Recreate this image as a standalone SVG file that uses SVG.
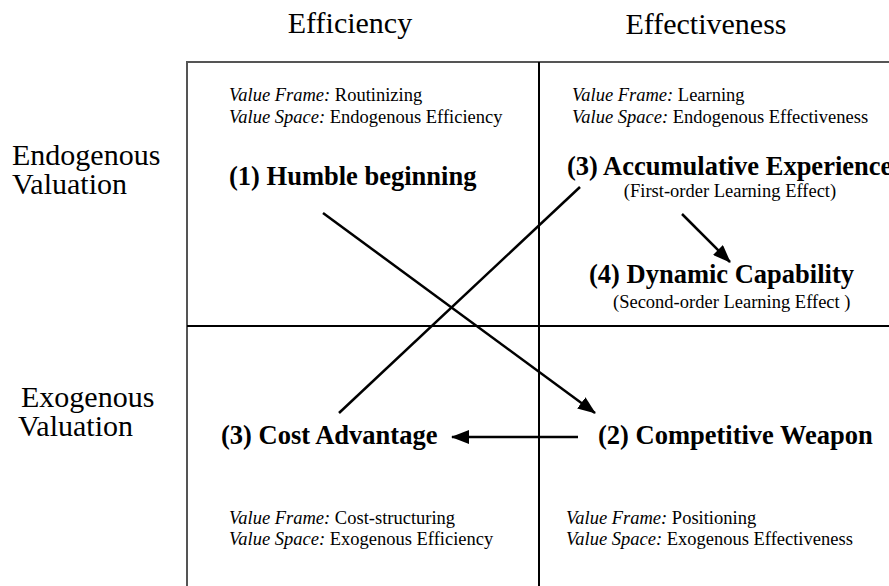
<svg xmlns="http://www.w3.org/2000/svg" width="889" height="586" viewBox="0 0 889 586">
<style>
text{font-family:'Liberation Serif','Times New Roman',serif;fill:#000}
.hdr{font-size:30px}
.note{font-size:18.5px}
.note .i{font-style:italic}
.lbl{font-size:26.5px;font-weight:bold}
.grid{stroke:#000;stroke-width:2;fill:none}
.border{stroke:#555;stroke-width:2;fill:none}
.conn{stroke:#000;stroke-width:2.5;fill:none}
</style>
<defs>
<marker id="ah" viewBox="0 0 18 14" refX="17" refY="7" markerWidth="18" markerHeight="14" markerUnits="userSpaceOnUse" orient="auto">
<path d="M0,0 L18,7 L0,14 Z" fill="#000"/>
</marker>
</defs>
<rect width="889" height="586" fill="#fff"/>
<g id="grid">
<path class="border" d="M187,600 L187,62 L900,62"/>
<line class="grid" x1="539" y1="62" x2="539" y2="600"/>
<line class="grid" x1="187" y1="326" x2="900" y2="326"/>
</g>
<g id="axis-labels">
<text class="hdr" x="350" y="33" text-anchor="middle">Efficiency</text>
<text class="hdr" x="706" y="34" text-anchor="middle">Effectiveness</text>
<text class="hdr" x="12" y="165">Endogenous</text>
<text class="hdr" x="12" y="194">Valuation</text>
<text class="hdr" x="21" y="407">Exogenous</text>
<text class="hdr" x="18" y="436">Valuation</text>
</g>
<g id="q-endo-eff">
<text class="note" x="229" y="101"><tspan class="i">Value Frame:</tspan> Routinizing</text>
<text class="note" x="229" y="123"><tspan class="i">Value Space:</tspan> Endogenous Efficiency</text>
</g>
<g id="q-endo-effect">
<text class="note" x="572" y="101"><tspan class="i">Value Frame:</tspan> Learning</text>
<text class="note" x="572" y="123"><tspan class="i">Value Space:</tspan> Endogenous Effectiveness</text>
</g>
<g id="q-exo-eff">
<text class="note" x="229" y="524"><tspan class="i">Value Frame:</tspan> Cost-structuring</text>
<text class="note" x="229" y="545"><tspan class="i">Value Space:</tspan> Exogenous Efficiency</text>
</g>
<g id="q-exo-effect">
<text class="note" x="566" y="524"><tspan class="i">Value Frame:</tspan> Positioning</text>
<text class="note" x="566" y="545"><tspan class="i">Value Space:</tspan> Exogenous Effectiveness</text>
</g>
<g id="n1">
<text class="lbl" x="229" y="185">(1) Humble beginning</text>
</g>
<g id="n3a">
<text class="lbl" x="567" y="175">(3) Accumulative Experience</text>
<text class="note" x="730" y="197" text-anchor="middle">(First-order Learning Effect)</text>
</g>
<g id="n4">
<text class="lbl" x="589" y="283">(4) Dynamic Capability</text>
<text class="note" x="613" y="308">(Second-order Learning Effect )</text>
</g>
<g id="n3b">
<text class="lbl" x="221" y="444">(3) Cost Advantage</text>
</g>
<g id="n2">
<text class="lbl" x="598" y="444">(2) Competitive Weapon</text>
</g>
<g id="connectors">
<line class="conn" x1="323" y1="213" x2="595" y2="413" marker-end="url(#ah)"/>
<line class="conn" x1="339" y1="413" x2="580" y2="187"/>
<line class="conn" x1="578" y1="437" x2="452" y2="437" marker-end="url(#ah)"/>
<line class="conn" x1="682" y1="214" x2="730" y2="262" marker-end="url(#ah)"/>
</g>
</svg>
